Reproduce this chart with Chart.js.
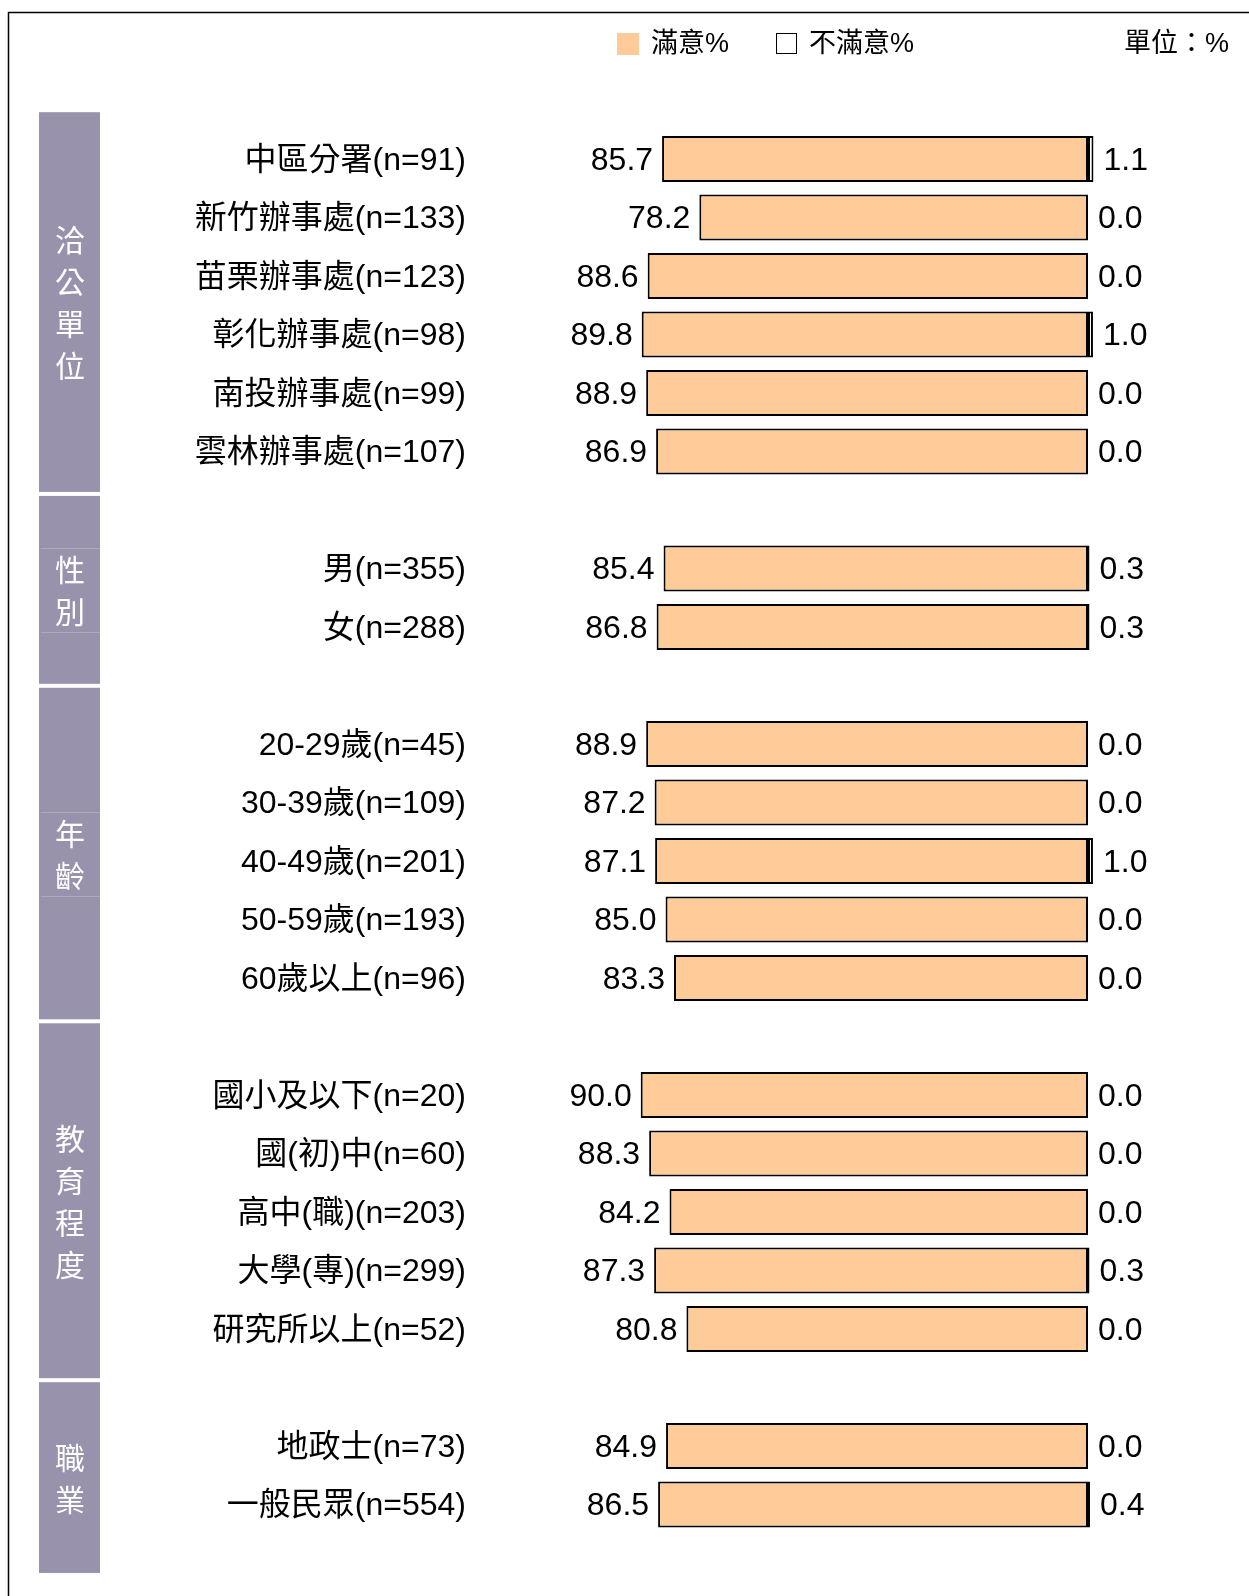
<!DOCTYPE html>
<html>
<head>
<meta charset="utf-8">
<script src="https://cdn.jsdelivr.net/npm/chart.js@4.4.1/dist/chart.umd.min.js"></script>
<style>
  body { margin: 0; background: #fff; }
  #wrap { position: relative; width: 1249px; height: 1596px; }
</style>
</head>
<body>
<div id="wrap"><canvas id="graph1" width="1249" height="1596"></canvas></div>
<script>
// data
var groupNames = ['洽公單位', '性別', '年齡', '教育程度', '職業'];
var unitLabels = ['中區分署(n=91)', '新竹辦事處(n=133)', '苗栗辦事處(n=123)', '彰化辦事處(n=98)', '南投辦事處(n=99)', '雲林辦事處(n=107)'];
var genderLabels = ['男(n=355)', '女(n=288)'];
var ageLabels = ['20-29歲(n=45)', '30-39歲(n=109)', '40-49歲(n=201)', '50-59歲(n=193)', '60歲以上(n=96)'];
var eduLabels = ['國小及以下(n=20)', '國(初)中(n=60)', '高中(職)(n=203)', '大學(專)(n=299)', '研究所以上(n=52)'];
var jobLabels = ['地政士(n=73)', '一般民眾(n=554)'];

var satisfied = [85.7, 78.2, 88.6, 89.8, 88.9, 86.9, 85.4, 86.8, 88.9, 87.2, 87.1, 85.0, 83.3, 90.0, 88.3, 84.2, 87.3, 80.8, 84.9, 86.5];
var dissatisfied = [1.1, 0.0, 0.0, 1.0, 0.0, 0.0, 0.3, 0.3, 0.0, 0.0, 1.0, 0.0, 0.0, 0.0, 0.0, 0.0, 0.3, 0.0, 0.0, 0.4];

var seriesNames = ['滿意%', '不滿意%'];
var unitText = '單位：%';

// build rows, one empty row between groups
var groups = [unitLabels, genderLabels, ageLabels, eduLabels, jobLabels];
var labels = [], satData = [], disData = [];
var k = 0;
groups.forEach(function (g, gi) {
    if (gi > 0) {
        labels.push('');
        satData.push(null);
        disData.push(null);
    }
    g.forEach(function (name) {
        labels.push(name);
        satData.push(-satisfied[k]);
        disData.push(dissatisfied[k]);
        k++;
    });
});

var FONT = '"Liberation Sans", "Noto Sans CJK TC", sans-serif';
var boxEdges = [-0.8, 5.725, 9.005, 14.74, 20.875, 24.17]; // in row units
var linedGroups = [1, 2];

var decor = {
    id: 'decor',
    beforeDraw: function (chart) {
        var c = chart.ctx, y = chart.scales.y;
        c.save();
        // frame
        c.strokeStyle = '#000';
        c.lineWidth = 1.5;
        c.beginPath();
        c.moveTo(8.5, 1596);
        c.lineTo(8.5, 12.5);
        c.lineTo(1249, 12.5);
        c.stroke();

        // group boxes
        for (var i = 0; i < groupNames.length; i++) {
            var top = y.getPixelForValue(boxEdges[i]) + (i > 0 ? 2 : 0);
            var bot = y.getPixelForValue(boxEdges[i + 1]) - (i < groupNames.length - 1 ? 2 : 0);
            c.fillStyle = '#9892ad';
            c.fillRect(39, top, 61, bot - top);
            var chars = groupNames[i].split('');
            var mid = (top + bot) / 2;
            var step = 42;
            c.fillStyle = '#fff';
            c.font = '30px ' + FONT;
            c.textAlign = 'center';
            c.textBaseline = 'middle';
            chars.forEach(function (ch, j) {
                c.fillText(ch, 70, mid + 4 + (j - (chars.length - 1) / 2) * step);
            });
            if (linedGroups.indexOf(i) >= 0) {
                c.strokeStyle = 'rgba(255,255,255,0.22)';
                c.lineWidth = 1;
                var h = chars.length * step / 2;
                c.beginPath();
                c.moveTo(41, Math.round(mid - h) + 0.5);
                c.lineTo(100, Math.round(mid - h) + 0.5);
                c.moveTo(41, Math.round(mid + h) + 0.5);
                c.lineTo(100, Math.round(mid + h) + 0.5);
                c.stroke();
            }
        }

        // legend
        var ds = chart.data.datasets;
        c.font = '27px ' + FONT;
        c.textAlign = 'left';
        c.textBaseline = 'middle';
        c.fillStyle = ds[0].backgroundColor;
        c.fillRect(617, 33, 22, 22);
        c.fillStyle = '#000';
        c.fillText(ds[0].label, 651, 45);
        c.fillStyle = ds[1].backgroundColor;
        c.fillRect(776, 33, 21, 21);
        c.strokeStyle = '#000';
        c.lineWidth = 1;
        c.strokeRect(776.5, 33.5, 20, 20);
        c.fillStyle = '#000';
        c.fillText(ds[1].label, 809, 45);
        c.textAlign = 'right';
        c.fillText(unitText, 1229, 45);
        c.restore();
    },
    afterDatasetsDraw: function (chart) {
        var c = chart.ctx;
        var x0 = chart.scales.x.getPixelForValue(0);
        c.save();
        c.font = '32px ' + FONT;
        c.fillStyle = '#000';
        c.textBaseline = 'middle';
        chart.data.datasets.forEach(function (ds, di) {
            var meta = chart.getDatasetMeta(di);
            meta.data.forEach(function (bar, i) {
                var v = ds.data[i];
                if (v === null) return;
                var txt = Math.abs(v).toFixed(1);
                if (di === 0) {
                    c.textAlign = 'right';
                    c.fillText(txt, Math.min(bar.x, x0) - 9, bar.y + 2);
                } else {
                    c.textAlign = 'left';
                    c.fillText(txt, Math.max(bar.x, x0) + 10, bar.y + 2);
                }
            });
        });
        c.restore();
    }
};

var ctx = document.getElementById('graph1').getContext('2d');
var data = {
    labels: labels,
    datasets: [{
        label: seriesNames[0],
        data: satData,
        backgroundColor: '#ffcc99',
        borderColor: '#000',
        borderWidth: 2,
        borderSkipped: false
    }, {
        label: seriesNames[1],
        data: disData,
        backgroundColor: '#ffffff',
        borderColor: '#000',
        borderWidth: 2,
        borderSkipped: false
    }]
};
var options = {
    indexAxis: 'y',
    responsive: false,
    animation: false,
    datasets: {
        bar: { barPercentage: 0.786, categoryPercentage: 1, grouped: false }
    },
    layout: {
        padding: { left: 0, right: 61.6, top: 129.75, bottom: 62.25 }
    },
    plugins: {
        legend: { display: false },
        tooltip: { enabled: false }
    },
    scales: {
        x: {
            display: false,
            min: -100,
            max: 20
        },
        y: {
            grid: { display: false, drawTicks: false },
            border: { display: false },
            afterFit: function (scale) {
                scale.width = 591;
                scale.paddingTop = 0;
                scale.paddingBottom = 0;
            },
            ticks: {
                autoSkip: false,
                padding: 125,
                labelOffset: 2,
                color: '#000',
                font: { family: FONT, size: 32 }
            }
        }
    }
};
var config = {
    type: 'bar',
    data: data,
    options: options,
    plugins: [decor]
};
var graph1 = new Chart(ctx, config);
</script>
</body>
</html>
